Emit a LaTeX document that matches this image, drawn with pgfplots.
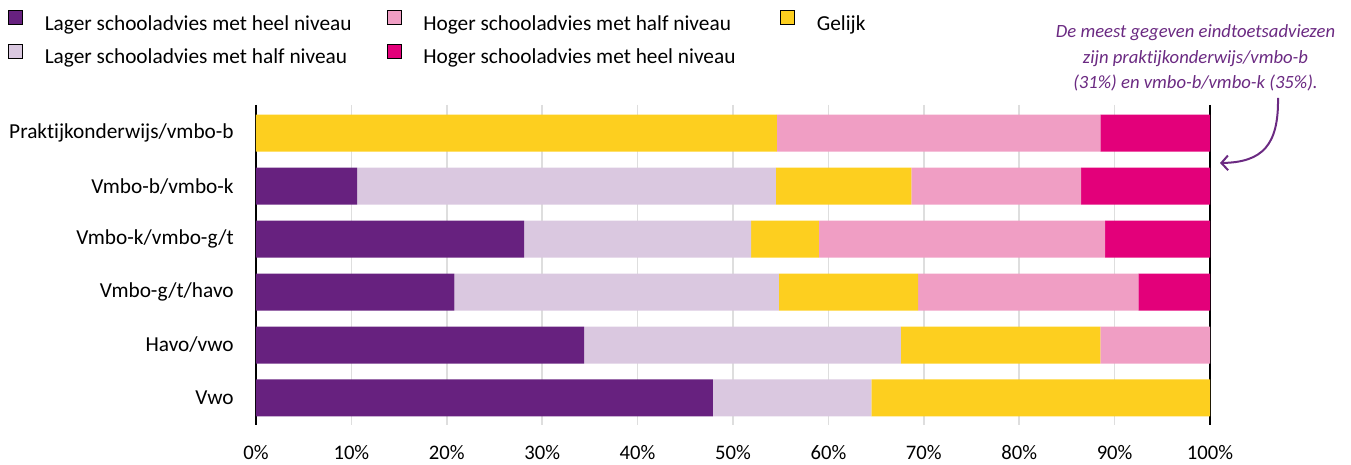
\documentclass[border=0pt]{standalone}
\usepackage{pgfplots}
\pgfplotsset{compat=1.18}
\usepackage{pgfplotstable}
\usepackage{fontspec}
\setmainfont{Carlito}[Ligatures={NoCommon}]
\usetikzlibrary{arrows.meta}
\definecolor{cA}{HTML}{67217F}
\definecolor{cB}{HTML}{DAC8E0}
\definecolor{cC}{HTML}{FDCF1F}
\definecolor{cD}{HTML}{F09EC4}
\definecolor{cE}{HTML}{E3007A}
\definecolor{cT}{HTML}{6B2A82}
\pgfplotstableread{
y a b c d e
0 0 0 54.6 33.9 11.5
1 10.6 43.9 14.2 17.8 13.5
2 28.1 23.8 7.1 30.0 11.0
3 20.8 34.0 14.6 23.1 7.5
4 34.4 33.2 20.9 11.5 0
5 47.9 16.6 35.5 0 0
}\data
\begin{document}
\fontsize{16}{19}\selectfont
\begin{tikzpicture}[font=\fontsize{16}{19}\selectfont]
\useasboundingbox (-192pt,-29.25pt) rectangle (821.25pt,318.75pt);
\begin{axis}[at={(0,0)}, anchor=south west, scale only axis,
  width=715.5pt, height=240pt,
  xmin=0, xmax=100, ymin=-0.53, ymax=5.51, y dir=reverse,
  xbar stacked, bar width=27.75pt,
  xtick={0,10,...,100},
  xticklabels={0\%,10\%,20\%,30\%,40\%,50\%,60\%,70\%,80\%,90\%,100\%},
  ytick={0,1,2,3,4,5},
  yticklabels={Praktijkonderwijs/vmbo-b,Vmbo-b/vmbo-k,Vmbo-k/vmbo-g/t,Vmbo-g/t/havo,Havo/vwo,Vwo},
  major tick length=0pt,
  xmajorgrids, grid style={draw=black!13, line width=1.1pt},
  separate axis lines,
  x axis line style={draw=none},
  y axis line style={draw=black, line width=1.1pt},
  xticklabel style={font=\fontsize{15.5}{18}\selectfont, inner sep=0pt, anchor=north, yshift=-15pt},
  yticklabel style={inner sep=0pt, anchor=east, xshift=-16.5pt},
  legend columns=3,
  legend cell align=left,
  legend image code/.code={\fill[#1] (0pt,0pt) rectangle (10.5pt,10.5pt);},
  legend style={at={(axis description cs:-0.26,1.297)}, anchor=north west,
    draw=none, fill=none, inner sep=0pt, column sep=16.5pt, row sep=7.75pt,
    nodes={inner sep=0pt}},
]
\addplot[forget plot, fill=cA, draw=none] table[x=a, y=y] {\data};
\addplot[forget plot, fill=cB, draw=none] table[x=b, y=y] {\data};
\addplot[forget plot, fill=cC, draw=none] table[x=c, y=y] {\data};
\addplot[forget plot, fill=cD, draw=none] table[x=d, y=y] {\data};
\addplot[forget plot, fill=cE, draw=none] table[x=e, y=y] {\data};
\addlegendimage{fill=cA}
\addlegendentry{\makebox[240pt][l]{Lager schooladvies met heel niveau}}
\addlegendimage{fill=cD}
\addlegendentry{\makebox[251.25pt][l]{Hoger schooladvies met half niveau}}
\addlegendimage{fill=cC}
\addlegendentry{Gelijk}
\addlegendimage{fill=cB}
\addlegendentry{\makebox[240pt][l]{Lager schooladvies met half niveau}}
\addlegendimage{fill=cE}
\addlegendentry{\makebox[251.25pt][l]{Hoger schooladvies met heel niveau}}
\end{axis}
\node[font=\itshape\fontsize{14}{19}\selectfont, text=cT, align=center] at (704.6pt,275.25pt)
  {De meest gegeven eindtoetsadviezen\\zijn praktijkonderwijs/vmbo-b\\(31\%) en vmbo-b/vmbo-k (35\%).};
\draw[cT, line width=1.5pt, -{Straight Barb[length=5pt, width=11pt]}]
  (766.5pt,245.25pt) .. controls (767pt,210pt) and (755pt,197pt) .. (723pt,196.5pt);
\end{tikzpicture}
\end{document}
